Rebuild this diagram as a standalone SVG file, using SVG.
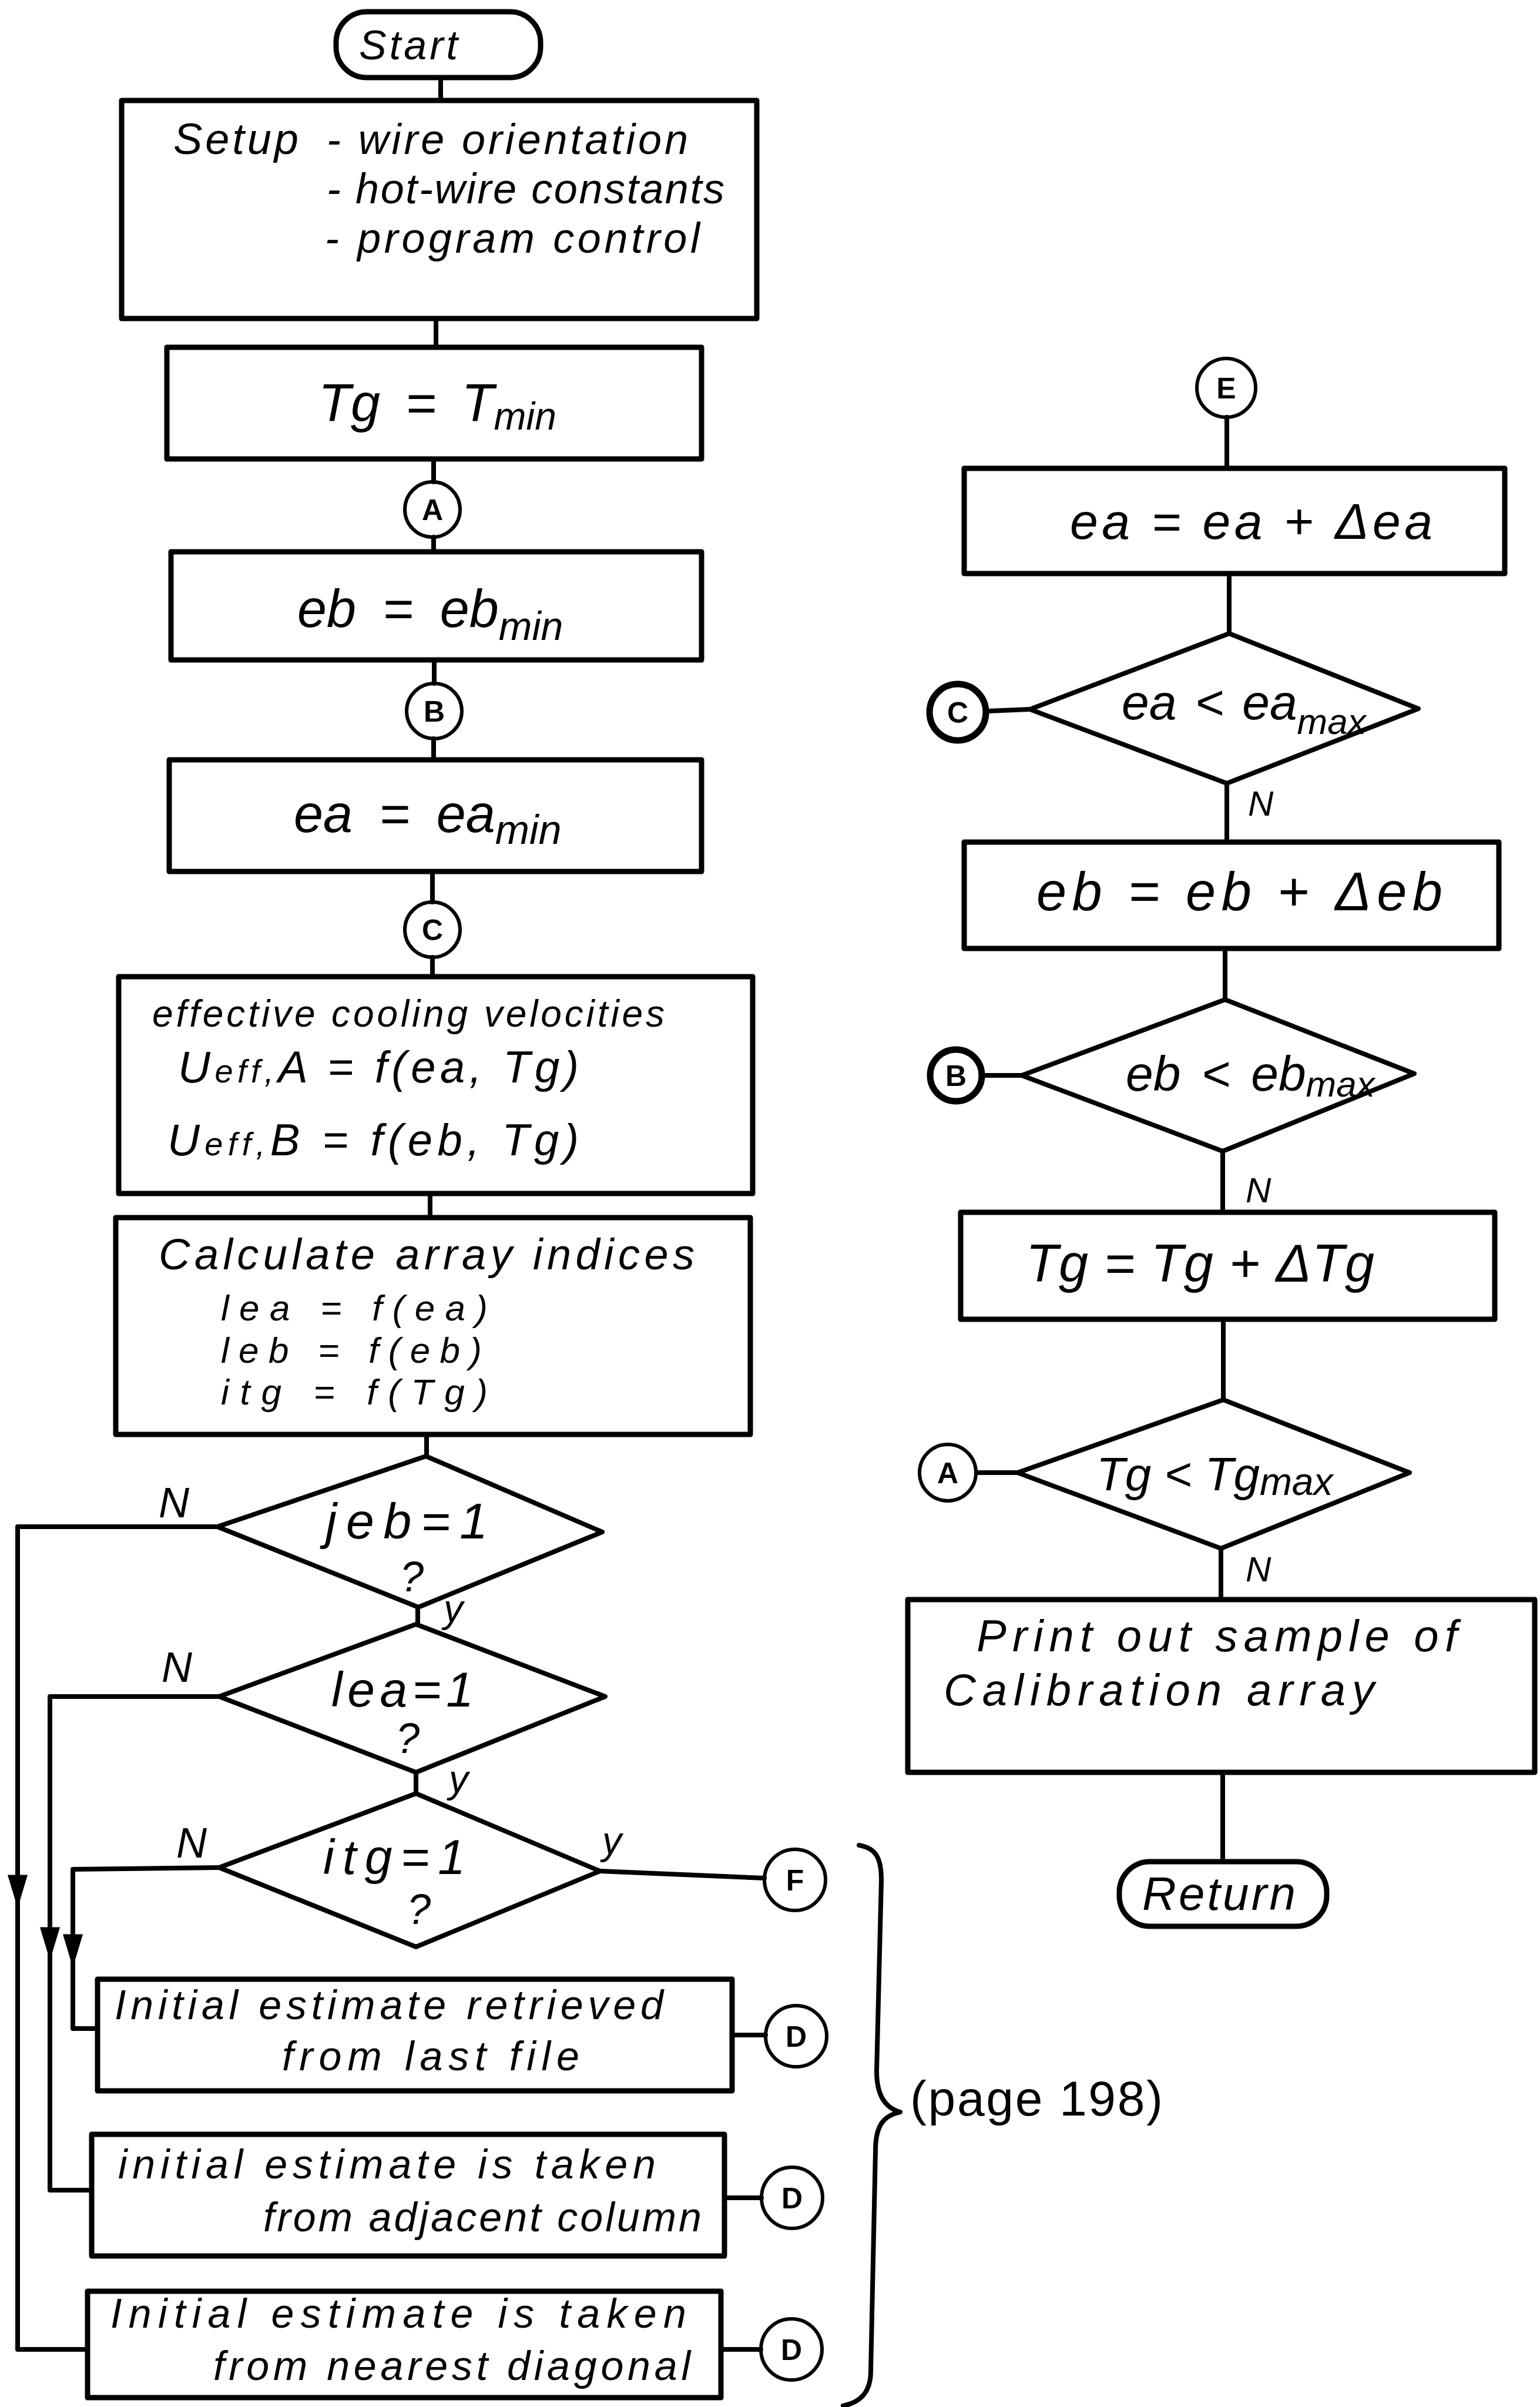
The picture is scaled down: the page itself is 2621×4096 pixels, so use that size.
<svg xmlns="http://www.w3.org/2000/svg" width="2621" height="4096" viewBox="0 0 2621 4096">
<style>
.box{fill:none;stroke:#000;stroke-width:9;stroke-linejoin:round}
.term{fill:none;stroke:#000;stroke-width:9}
.dia{fill:none;stroke:#000;stroke-width:8;stroke-linejoin:round}
.circ{fill:none;stroke:#000;stroke-width:6}
.circ2{fill:none;stroke:#000;stroke-width:11}
.conn{fill:none;stroke:#000;stroke-width:8;stroke-linecap:round;stroke-linejoin:round}
.hw{font-family:"Liberation Sans","DejaVu Sans",sans-serif;font-style:italic;fill:#000}
.up{font-family:"Liberation Sans","DejaVu Sans",sans-serif;fill:#000}
.lbl{font-family:"Liberation Sans","DejaVu Sans",sans-serif;font-weight:bold;font-size:50px;text-anchor:middle;fill:#000}
</style>
<defs>
<path id="arrowDown" d="M-15,-50 L15,-50 L0,0 Z" fill="#000" stroke="#000" stroke-width="3"/>
</defs>
<rect x="0" y="0" width="2621" height="4096" fill="#fff"/>

<g id="connectors">
<path class="conn" d="M750,132 V171"/>
<path class="conn" d="M742,542 V591"/>
<path class="conn" d="M738,781 V820"/>
<path class="conn" d="M738,914 V939"/>
<path class="conn" d="M739,1123 V1163"/>
<path class="conn" d="M738,1257 V1293"/>
<path class="conn" d="M736,1483 V1535"/>
<path class="conn" d="M736,1629 V1662"/>
<path class="conn" d="M732,2031 V2072"/>
<path class="conn" d="M726,2441 V2478"/>
<path class="conn" d="M711,2735 V2764"/>
<path class="conn" d="M708,3016 V3052"/>
<path class="conn" d="M1021,3184 L1301,3196"/>
<path class="conn" d="M370,2598 H30 V3998 H149"/>
<path class="conn" d="M373,2887 H85 V3727 H156"/>
<path class="conn" d="M373,3178 L124,3181 V3452 H166"/>
<use href="#arrowDown" x="30" y="3242"/>
<use href="#arrowDown" x="85" y="3331"/>
<use href="#arrowDown" x="124" y="3343"/>
<path class="conn" d="M1246,3463 H1303"/>
<path class="conn" d="M1233,3740 H1296"/>
<path class="conn" d="M1227,3998 H1295"/>
<path class="conn" d="M2088,710 V797"/>
<path class="conn" d="M2092,976 V1078"/>
<path class="conn" d="M1682,1210 L1753,1207"/>
<path class="conn" d="M2088,1333 V1433"/>
<path class="conn" d="M2085,1614 V1701"/>
<path class="conn" d="M1671,1830 H1739"/>
<path class="conn" d="M2081,1959 V2063"/>
<path class="conn" d="M2082,2245 V2382"/>
<path class="conn" d="M1663,2506 H1732"/>
<path class="conn" d="M2078,2635 V2722"/>
<path class="conn" d="M2081,3016 V3168"/>
<text class="hw" x="270" y="2582" font-size="72">N</text>
<text class="hw" x="275" y="2862" font-size="72">N</text>
<text class="hw" x="300" y="3161" font-size="72">N</text>
<text class="hw" x="755" y="2760" font-size="66">y</text>
<text class="hw" x="764" y="3050" font-size="66">y</text>
<text class="hw" x="1025" y="3155" font-size="66">y</text>
<text class="hw" x="2124" y="1388" font-size="60">N</text>
<text class="hw" x="2120" y="2046" font-size="60">N</text>
<text class="hw" x="2120" y="2691" font-size="60">N</text>
</g>

<g id="start">
<rect class="term" x="572" y="20" width="348" height="112" rx="52"/>
<text class="hw" x="611" y="101" font-size="70" textLength="168">Start</text>
</g>

<g id="setup">
<rect class="box" x="207" y="171" width="1081" height="371"/>
<text class="hw" x="295" y="262" font-size="74" textLength="213">Setup</text>
<text class="hw" x="556" y="262" font-size="72" textLength="615">- wire orientation</text>
<text class="hw" x="556" y="346" font-size="72" textLength="677">- hot-wire constants</text>
<text class="hw" x="553" y="430" font-size="72" textLength="638">- program control</text>
</g>

<g id="tg-min">
<rect class="box" x="284" y="591" width="910" height="190"/>
<text class="hw" x="542" y="717" font-size="90" word-spacing="18">Tg = T<tspan dy="14" font-size="66">min</tspan></text>
</g>

<g id="conn-A1"><circle class="circ" cx="736" cy="867" r="47"/><text class="lbl" x="736" y="885">A</text></g>

<g id="eb-min">
<rect class="box" x="291" y="939" width="903" height="184"/>
<text class="hw" x="506" y="1067" font-size="90" word-spacing="20">eb = eb<tspan dy="22" font-size="68">min</tspan></text>
</g>

<g id="conn-B1"><circle class="circ" cx="739" cy="1210" r="47"/><text class="lbl" x="739" y="1228">B</text></g>

<g id="ea-min">
<rect class="box" x="288" y="1293" width="906" height="190"/>
<text class="hw" x="500" y="1416" font-size="90" word-spacing="20">ea = ea<tspan dy="20" font-size="70">min</tspan></text>
</g>

<g id="conn-C1"><circle class="circ" cx="736" cy="1582" r="47"/><text class="lbl" x="736" y="1600">C</text></g>

<g id="velocities">
<rect class="box" x="202" y="1662" width="1079" height="369"/>
<text class="hw" x="259" y="1747" font-size="64" textLength="872">effective cooling velocities</text>
<text class="hw" x="303" y="1842" font-size="76" textLength="682">U<tspan font-size="56">eff,</tspan>A = f(ea, Tg)</text>
<text class="hw" x="285" y="1966" font-size="76" textLength="700">U<tspan font-size="56">eff,</tspan>B = f(eb, Tg)</text>
</g>

<g id="indices">
<rect class="box" x="197" y="2072" width="1080" height="369"/>
<text class="hw" x="270" y="2160" font-size="74" textLength="912">Calculate array indices</text>
<text class="hw" x="376" y="2247" font-size="62" textLength="454">lea = f(ea)</text>
<text class="hw" x="376" y="2319" font-size="62" textLength="444">leb = f(eb)</text>
<text class="hw" x="376" y="2390" font-size="62" textLength="454">itg = f(Tg)</text>
</g>

<g id="dec-jeb">
<polygon class="dia" points="725,2478 1025,2607 712,2735 370,2598"/>
<text class="hw" x="554" y="2618" font-size="86" textLength="276">jeb=1</text>
<text class="hw" x="701" y="2708" font-size="72" text-anchor="middle">?</text>
</g>

<g id="dec-lea">
<polygon class="dia" points="708,2764 1030,2887 708,3016 373,2887"/>
<text class="hw" x="564" y="2904" font-size="84" textLength="242">lea=1</text>
<text class="hw" x="694" y="2983" font-size="72" text-anchor="middle">?</text>
</g>

<g id="dec-itg">
<polygon class="dia" points="708,3052 1021,3184 708,3313 373,3178"/>
<text class="hw" x="550" y="3189" font-size="84" textLength="242">itg=1</text>
<text class="hw" x="713" y="3274" font-size="72" text-anchor="middle">?</text>
</g>

<g id="conn-F"><circle class="circ" cx="1353" cy="3199" r="52"/><text class="lbl" x="1353" y="3217">F</text></g>

<g id="est-last-file">
<rect class="box" x="166" y="3368" width="1080" height="190"/>
<text class="hw" x="195" y="3436" font-size="70" textLength="934">Initial estimate retrieved</text>
<text class="hw" x="480" y="3523" font-size="70" textLength="506">from last file</text>
</g>
<g id="conn-D1"><circle class="circ" cx="1355" cy="3465" r="52"/><text class="lbl" x="1355" y="3483">D</text></g>

<g id="est-adjacent">
<rect class="box" x="156" y="3632" width="1077" height="207"/>
<text class="hw" x="201" y="3707" font-size="70" textLength="915">initial estimate is taken</text>
<text class="hw" x="448" y="3797" font-size="70" textLength="746">from adjacent column</text>
</g>
<g id="conn-D2"><circle class="circ" cx="1348" cy="3740" r="52"/><text class="lbl" x="1348" y="3758">D</text></g>

<g id="est-diagonal">
<rect class="box" x="149" y="3899" width="1078" height="181"/>
<text class="hw" x="188" y="3961" font-size="70" textLength="980">Initial estimate is taken</text>
<text class="hw" x="363" y="4050" font-size="70" textLength="812">from nearest diagonal</text>
</g>
<g id="conn-D3"><circle class="circ" cx="1347" cy="3998" r="52"/><text class="lbl" x="1347" y="4016">D</text></g>

<g id="page-ref">
<path class="conn" d="M1462,3140 C1490,3145 1500,3160 1500,3200 L1492,3525 C1492,3570 1510,3588 1532,3594 C1505,3600 1490,3615 1490,3660 L1482,4035 C1482,4070 1465,4088 1435,4094"/>
<text class="up" x="1549" y="3600" font-size="84" textLength="430">(page 198)</text>
</g>

<g id="conn-E"><circle class="circ" cx="2087" cy="660" r="50"/><text class="lbl" x="2087" y="678">E</text></g>

<g id="ea-inc">
<rect class="box" x="1641" y="797" width="920" height="179"/>
<text class="hw" x="1821" y="917" font-size="86" textLength="617">ea = ea + Δea</text>
</g>

<g id="dec-ea">
<polygon class="dia" points="2092,1078 2414,1206 2088,1333 1753,1207"/>
<text class="hw" x="1909" y="1224" font-size="84" word-spacing="8">ea &lt; ea<tspan dy="25" font-size="62">max</tspan></text>
</g>
<g id="conn-C2"><circle class="circ2" cx="1630" cy="1212" r="48"/><text class="lbl" x="1630" y="1230">C</text></g>

<g id="eb-inc">
<rect class="box" x="1641" y="1433" width="910" height="181"/>
<text class="hw" x="1764" y="1549" font-size="92" textLength="691">eb = eb + Δeb</text>
</g>

<g id="dec-eb">
<polygon class="dia" points="2085,1701 2407,1827 2081,1959 1739,1830"/>
<text class="hw" x="1916" y="1856" font-size="84" word-spacing="12">eb &lt; eb<tspan dy="10" font-size="62">max</tspan></text>
</g>
<g id="conn-B2"><circle class="circ2" cx="1627" cy="1830" r="44"/><text class="lbl" x="1627" y="1848">B</text></g>

<g id="tg-inc">
<rect class="box" x="1635" y="2063" width="909" height="182"/>
<text class="hw" x="1746" y="2181" font-size="90" textLength="593">Tg = Tg + ΔTg</text>
</g>

<g id="dec-tg">
<polygon class="dia" points="2082,2382 2399,2506 2078,2635 1732,2506"/>
<text class="hw" x="1866" y="2536" font-size="80">Tg &lt; Tg<tspan dy="8" font-size="66">max</tspan></text>
</g>
<g id="conn-A2"><circle class="circ" cx="1613" cy="2506" r="48"/><text class="lbl" x="1613" y="2524">A</text></g>

<g id="print">
<rect class="box" x="1545" y="2722" width="1067" height="294"/>
<text class="hw" x="1662" y="2810" font-size="76" textLength="818">Print out sample of</text>
<text class="hw" x="1606" y="2902" font-size="76" textLength="733">Calibration array</text>
</g>

<g id="return">
<rect class="term" x="1905" y="3168" width="353" height="110" rx="52"/>
<text class="hw" x="1944" y="3250" font-size="80" textLength="261">Return</text>
</g>
</svg>
